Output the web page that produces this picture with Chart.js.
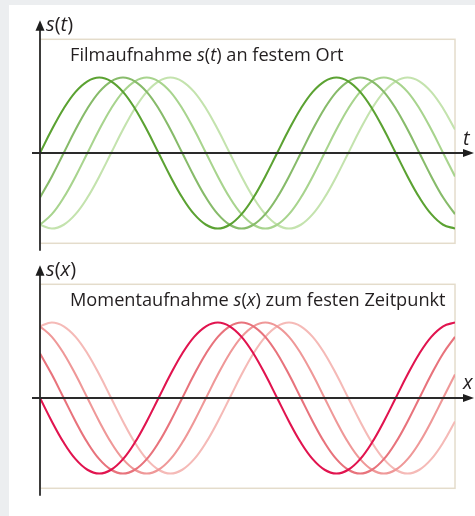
<!DOCTYPE html>
<html>
<head>
<meta charset="utf-8">
<script src="https://cdn.jsdelivr.net/npm/chart.js@4.4.0/dist/chart.umd.min.js"></script>
<style>
  body { margin:0; width:475px; height:516px; overflow:hidden; position:relative; background:#eceef0; font-family:"Open Sans", sans-serif; color:#231f20; }
  #card { position:absolute; left:9px; top:5px; right:0; bottom:0; background:#fff; }
  .panel { position:absolute; left:0; width:475px; height:258px; }
  .panel canvas { position:absolute; left:0; top:0; }
  .lbl { position:absolute; line-height:1; white-space:nowrap; }
  .axis { font-size:20px; }
  .title { font-size:18.2px; left:70px; top:40px; }
</style>
</head>
<body>
<div id="card"></div>

<div class="panel" style="top:5px">
  <canvas id="filmChart" width="475" height="258"></canvas>
  <div class="lbl axis" style="left:46px; top:9px"><i>s</i>(<i>t</i>)</div>
  <div class="lbl title">Filmaufnahme <i>s</i>(<i>t</i>) an festem Ort</div>
  <div class="lbl axis" style="left:463px; top:123px"><i>t</i></div>
</div>

<div class="panel" style="top:250px">
  <canvas id="momentChart" width="475" height="258"></canvas>
  <div class="lbl axis" style="left:46px; top:9px"><i>s</i>(<i>x</i>)</div>
  <div class="lbl title">Momentaufnahme <i>s</i>(<i>x</i>) zum festen Zeitpunkt</div>
  <div class="lbl axis" style="left:463px; top:122px"><i>x</i></div>
</div>

<script>
// horizontal position (quarter periods), shared by every curve
const xValues = [0, 0.2, 0.4, 0.6, 0.8, 1, 1.2, 1.4, 1.6, 1.8, 2, 2.2, 2.4, 2.6, 2.8, 3, 3.2, 3.4,
  3.6, 3.8, 4, 4.2, 4.4, 4.6, 4.8, 5, 5.2, 5.4, 5.6, 5.8, 6, 6.2, 6.4, 6.6, 6.8, 7];

// s(t) at a fixed place, each one a little later
const film1 = [0, .31, .59, .81, .95, 1, .95, .81, .59, .31, 0, -.31, -.59, -.81, -.95, -1, -.95, -.81,
  -.59, -.31, 0, .31, .59, .81, .95, 1, .95, .81, .59, .31, 0, -.31, -.59, -.81, -.95, -1];
const film2 = [-.59, -.31, 0, .31, .59, .81, .95, 1, .95, .81, .59, .31, 0, -.31, -.59, -.81, -.95, -1,
  -.95, -.81, -.59, -.31, 0, .31, .59, .81, .95, 1, .95, .81, .59, .31, 0, -.31, -.59, -.81];
const film3 = [-.95, -.81, -.59, -.31, 0, .31, .59, .81, .95, 1, .95, .81, .59, .31, 0, -.31, -.59, -.81,
  -.95, -1, -.95, -.81, -.59, -.31, 0, .31, .59, .81, .95, 1, .95, .81, .59, .31, 0, -.31];
const film4 = [-.95, -1, -.95, -.81, -.59, -.31, 0, .31, .59, .81, .95, 1, .95, .81, .59, .31, 0, -.31,
  -.59, -.81, -.95, -1, -.95, -.81, -.59, -.31, 0, .31, .59, .81, .95, 1, .95, .81, .59, .31];

// s(x) at a fixed moment
const moment1 = [0, -.31, -.59, -.81, -.95, -1, -.95, -.81, -.59, -.31, 0, .31, .59, .81, .95, 1, .95, .81,
  .59, .31, 0, -.31, -.59, -.81, -.95, -1, -.95, -.81, -.59, -.31, 0, .31, .59, .81, .95, 1];
const moment2 = [.59, .31, 0, -.31, -.59, -.81, -.95, -1, -.95, -.81, -.59, -.31, 0, .31, .59, .81, .95, 1,
  .95, .81, .59, .31, 0, -.31, -.59, -.81, -.95, -1, -.95, -.81, -.59, -.31, 0, .31, .59, .81];
const moment3 = [.95, .81, .59, .31, 0, -.31, -.59, -.81, -.95, -1, -.95, -.81, -.59, -.31, 0, .31, .59, .81,
  .95, 1, .95, .81, .59, .31, 0, -.31, -.59, -.81, -.95, -1, -.95, -.81, -.59, -.31, 0, .31];
const moment4 = [.95, 1, .95, .81, .59, .31, 0, -.31, -.59, -.81, -.95, -1, -.95, -.81, -.59, -.31, 0, .31,
  .59, .81, .95, 1, .95, .81, .59, .31, 0, -.31, -.59, -.81, -.95, -1, -.95, -.81, -.59, -.31];

const greens = ["#5ba232", "#87bb6a", "#a8d48e", "#c4e3ae"];
const reds = ["#e1144f", "#e8737c", "#ef9898", "#f5bab7"];

// frame box plus the two arrowed axes
const axesPlugin = {
  id: "axes",
  beforeDatasetsDraw(chart) {
    const { ctx, chartArea: a } = chart;
    ctx.save();
    ctx.strokeStyle = "#e4dccb";
    ctx.lineWidth = 1.5;
    ctx.strokeRect(a.left, a.top, a.right - a.left, a.bottom - a.top);
    ctx.restore();
  },
  afterDatasetsDraw(chart) {
    const { ctx, chartArea: a, scales } = chart;
    const x0 = scales.x.getPixelForValue(0);
    const y0 = scales.y.getPixelForValue(0);
    ctx.save();
    ctx.strokeStyle = "#2a2a2a";
    ctx.fillStyle = "#1e1e1e";
    ctx.lineWidth = 1.8;

    ctx.beginPath();
    ctx.moveTo(x0 - 8, y0);
    ctx.lineTo(a.right + 10, y0);
    ctx.stroke();
    ctx.beginPath();
    ctx.moveTo(a.right + 19, y0);
    ctx.lineTo(a.right + 8, y0 - 4);
    ctx.lineTo(a.right + 8, y0 + 4);
    ctx.closePath();
    ctx.fill();

    ctx.beginPath();
    ctx.moveTo(x0, a.bottom + 7.5);
    ctx.lineTo(x0, a.top - 10);
    ctx.stroke();
    ctx.beginPath();
    ctx.moveTo(x0, a.top - 19);
    ctx.lineTo(x0 - 4.5, a.top - 8.5);
    ctx.lineTo(x0 + 4.5, a.top - 8.5);
    ctx.closePath();
    ctx.fill();
    ctx.restore();
  }
};

function makeWaves(id, series, colors) {
  new Chart(document.getElementById(id), {
    type: "line",
    data: {
      datasets: series.map((s, i) => ({
        data: xValues.map((x, j) => ({ x: x, y: s[j] })),
        borderColor: colors[i],
        borderWidth: 2.1,
        pointRadius: 0,
        tension: 0.4,
        fill: false
      }))
    },
    options: {
      responsive: false,
      animation: false,
      devicePixelRatio: 1,
      layout: { padding: { left: 40, right: 20, top: 34.3, bottom: 19.7 } },
      plugins: { legend: { display: false }, tooltip: { enabled: false } },
      scales: {
        x: { type: "linear", min: 0, max: 7, display: false },
        y: { min: -1.196, max: 1.506, display: false }
      }
    },
    plugins: [axesPlugin]
  });
}

makeWaves("filmChart", [film1, film2, film3, film4], greens);
makeWaves("momentChart", [moment1, moment2, moment3, moment4], reds);
</script>
</body>
</html>
